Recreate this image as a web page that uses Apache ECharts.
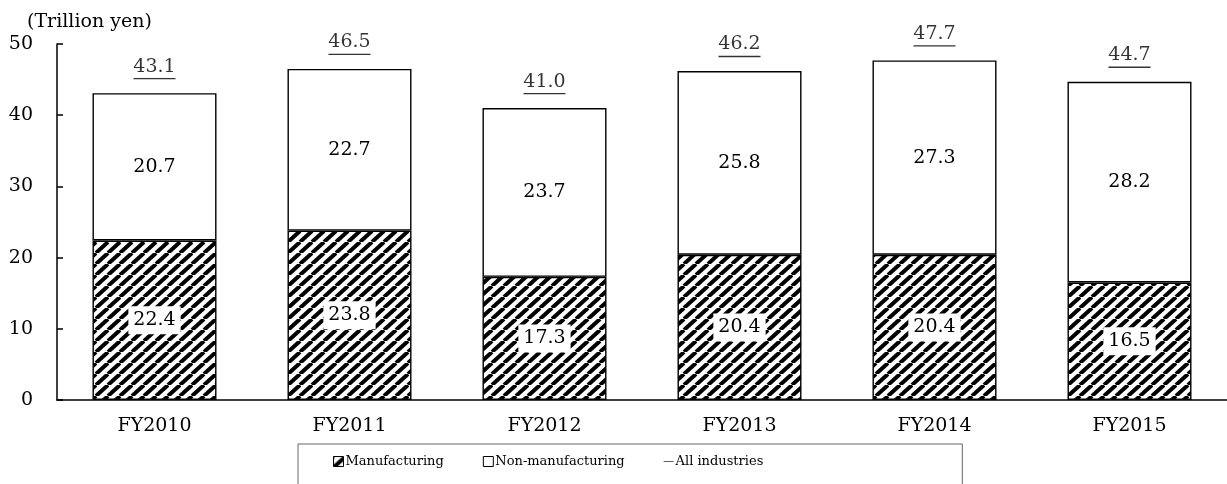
<!DOCTYPE html>
<html>
<head>
<meta charset="utf-8">
<script src="https://cdn.jsdelivr.net/npm/echarts@6/dist/echarts.min.js"></script>
<style>
  html, body { margin: 0; padding: 0; background: #fff; }
  #chart { width: 1227px; height: 484px; }
</style>
</head>
<body>
<div id="chart"></div>
<script>
const categories = ['FY2010', 'FY2011', 'FY2012', 'FY2013', 'FY2014', 'FY2015'];
const manufacturing = [22.4, 23.8, 17.3, 20.4, 20.4, 16.5];
const nonManufacturing = [20.7, 22.7, 23.7, 25.8, 27.3, 28.2];
const allIndustries = [43.1, 46.5, 41.0, 46.2, 47.7, 44.7];
const yTicks = [0, 10, 20, 30, 40, 50];

const FONT = 'DejaVu Serif';

// Diagonal "/" hatch used for the manufacturing segments
function hatch() {
  const w = 12, h = 11;
  const c = document.createElement('canvas');
  c.width = w; c.height = h;
  const ctx = c.getContext('2d');
  ctx.fillStyle = '#fff';
  ctx.fillRect(0, 0, w, h);
  ctx.strokeStyle = '#000';
  ctx.lineWidth = 4;
  for (const dx of [-w, 0, w]) {
    ctx.beginPath();
    ctx.moveTo(dx, h);
    ctx.lineTo(dx + w, 0);
    ctx.stroke();
  }
  return { image: c, repeat: 'repeat' };
}

const chart = echarts.init(document.getElementById('chart'));

chart.setOption({
  animation: false,
  backgroundColor: '#fff',
  textStyle: { fontFamily: FONT, color: '#000' },
  grid: { left: 57, top: 44, width: 1181, height: 356, containLabel: false },
  xAxis: {
    type: 'category',
    data: categories,
    axisLine: { lineStyle: { color: '#000', width: 1.5 } },
    axisTick: { inside: true, length: 5, lineStyle: { color: '#000', width: 1.5 } },
    axisLabel: { color: '#000', fontFamily: FONT, fontSize: 19, margin: 17 }
  },
  yAxis: {
    type: 'value',
    min: yTicks[0],
    max: yTicks[yTicks.length - 1],
    interval: 10,
    name: '(Trillion yen)',
    nameLocation: 'end',
    nameGap: 12,
    nameTextStyle: { color: '#000', fontFamily: FONT, fontSize: 19, align: 'left', padding: [0, 0, 0, -30] },
    splitLine: { show: false },
    axisLine: { show: true, lineStyle: { color: '#000', width: 1.5 } },
    axisTick: { show: true, inside: true, length: 6, lineStyle: { color: '#000', width: 1.5 } },
    axisLabel: { color: '#000', fontFamily: FONT, fontSize: 19, margin: 24 }
  },
  legend: {
    left: 298,
    top: 444,
    orient: 'horizontal',
    borderColor: '#666',
    borderWidth: 1,
    padding: [11, 199, 24, 35],
    itemGap: 39,
    itemWidth: 10,
    itemHeight: 10,
    textStyle: { color: '#000', fontFamily: FONT, fontSize: 13, padding: [0, 0, 0, -3] },
    data: [
      { name: 'Manufacturing', icon: 'rect', itemStyle: { borderColor: '#000', borderWidth: 1 } },
      { name: 'Non-manufacturing', icon: 'rect', itemStyle: { color: '#fff', borderColor: '#000', borderWidth: 1 } },
      { name: 'All industries', icon: 'path://M0,9.2H10V10H0Z', itemStyle: { color: '#000' } }
    ]
  },
  series: [
    {
      name: 'Manufacturing',
      type: 'bar',
      stack: 'total',
      barWidth: 124,
      data: manufacturing,
      itemStyle: { color: hatch(), borderColor: '#000', borderWidth: 1.4 },
      label: {
        show: true,
        position: 'inside',
        color: '#000',
        fontFamily: FONT,
        fontSize: 19,
        backgroundColor: '#fff',
        padding: [5, 5, 4, 5],
        formatter: p => p.value.toFixed(1)
      }
    },
    {
      name: 'Non-manufacturing',
      type: 'bar',
      stack: 'total',
      barWidth: 124,
      data: nonManufacturing,
      itemStyle: { color: '#fff', borderColor: '#000', borderWidth: 1.4 },
      label: {
        show: true,
        position: 'inside',
        color: '#000',
        fontFamily: FONT,
        fontSize: 19,
        formatter: p => p.value.toFixed(1)
      }
    },
    {
      name: 'All industries',
      type: 'scatter',
      data: allIndustries,
      symbolSize: 0,
      itemStyle: { color: '#000' },
      label: {
        show: true,
        position: 'top',
        distance: 13,
        color: '#000',
        formatter: p => '{v|' + p.value.toFixed(1) + '}\n{u|}',
        rich: {
          v: { fontFamily: FONT, fontSize: 19, color: '#000', lineHeight: 21, align: 'center' },
          u: { width: 42, height: 1.4, lineHeight: 3, backgroundColor: '#000', align: 'center' }
        }
      }
    }
  ]
});
</script>
</body>
</html>
